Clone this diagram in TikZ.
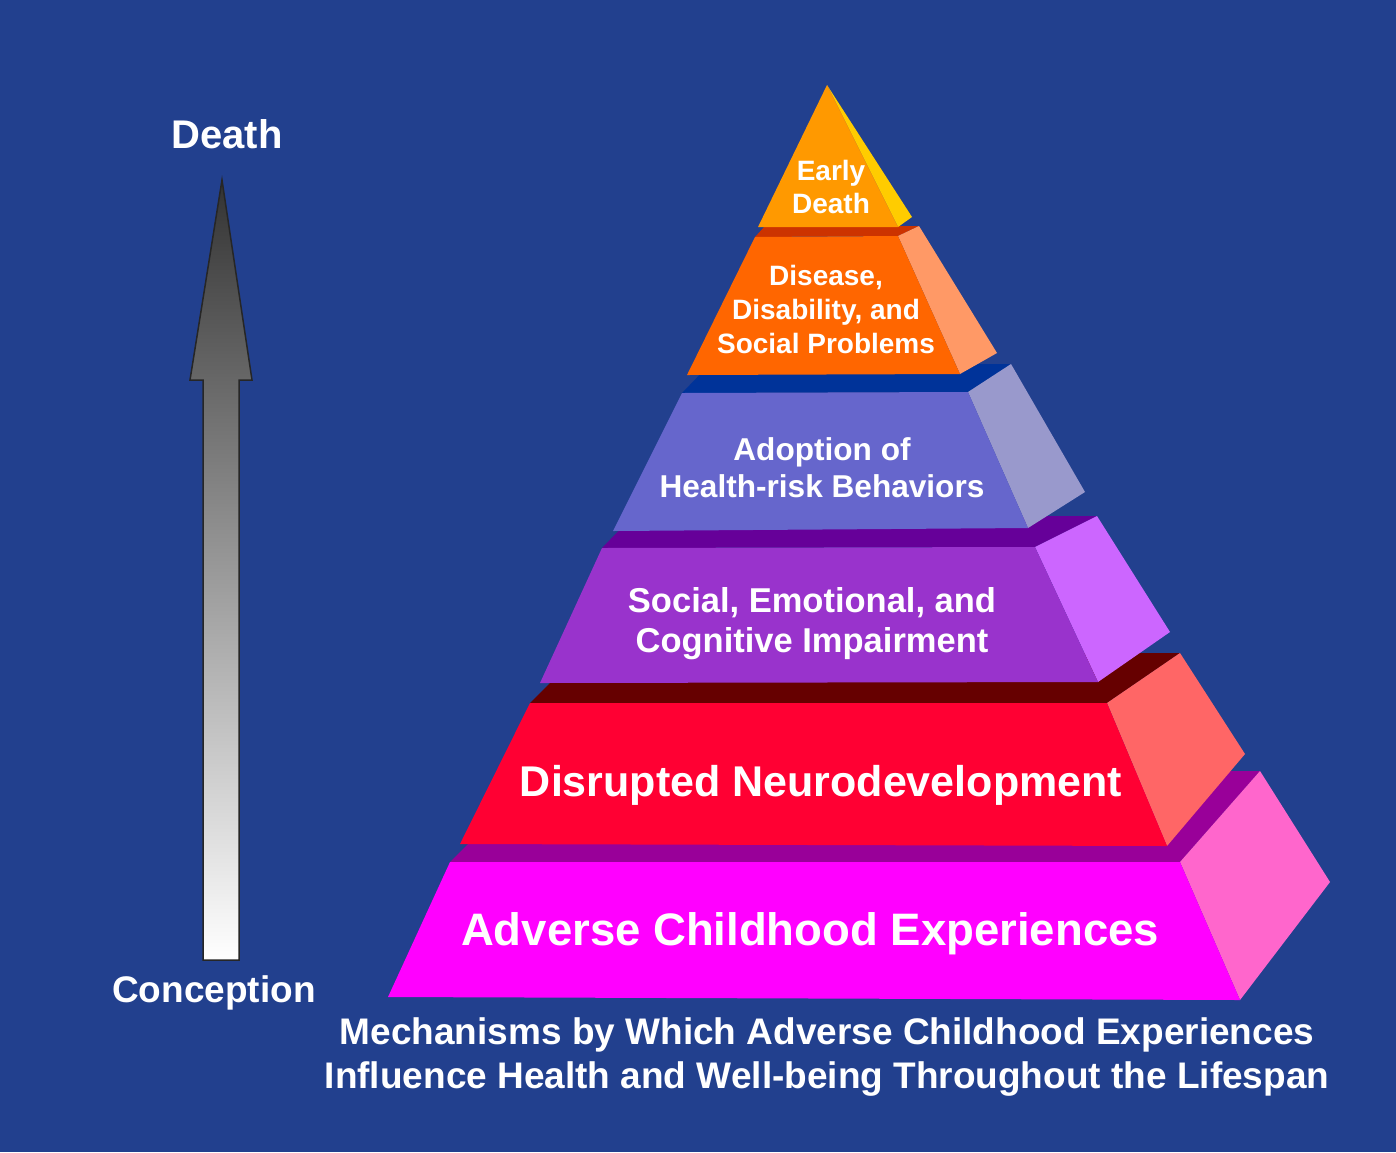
\documentclass[tikz,border=0pt]{standalone}
\usepackage{fontspec}
\setmainfont{Liberation Sans}
\usepackage{tikz}

\definecolor{bgblue}{HTML}{22408E}
\definecolor{deathfront}{HTML}{FF9900}
\definecolor{deathside}{HTML}{FFCC00}
\definecolor{diseasetop}{HTML}{CC3300}
\definecolor{diseasefront}{HTML}{FF6600}
\definecolor{diseaseside}{HTML}{FF9966}
\definecolor{risktop}{HTML}{003399}
\definecolor{riskfront}{HTML}{6666CC}
\definecolor{riskside}{HTML}{9999CC}
\definecolor{socialtop}{HTML}{660099}
\definecolor{socialfront}{HTML}{9933CC}
\definecolor{socialside}{HTML}{CC66FF}
\definecolor{neurotop}{HTML}{660000}
\definecolor{neurofront}{HTML}{FF0033}
\definecolor{neuroside}{HTML}{FF6666}
\definecolor{acetop}{HTML}{990099}
\definecolor{acefront}{HTML}{FF00FF}
\definecolor{aceside}{HTML}{FF66CC}

\begin{document}
\begin{tikzpicture}[x=1pt,y=-1pt,
    tiertext/.style={text=white,inner sep=0pt,align=center},
    bigtext/.style={text=white,inner sep=0pt,anchor=base}]
% Background
\fill[bgblue] (0,0) rectangle (1396,1152);
\useasboundingbox (0,0) rectangle (1396,1152);

% Time arrow
\shade[top color=black!80,bottom color=white,draw=black!85,line width=1.5pt]
    (203,960) -- (203,380) -- (190,380) -- (222,180) -- (252,380)
    -- (239,380) -- (239,960) -- cycle;
\node[bigtext,font=\fontsize{40}{48}\selectfont\bfseries] (death) at (227,148) {Death};
\node[bigtext,font=\fontsize{37}{44}\selectfont\bfseries] (conception) at (214,1002) {Conception};

% Tier 6: adverse experiences
\fill[acetop] (450,862) -- (1180,862) -- (1260,771) -- (541,771) -- cycle;
\fill[aceside] (1180,862) -- (1260,771) -- (1330,882) -- (1240,1000) -- cycle;
\fill[acefront] (388,997) -- (450,862) -- (1180,862) -- (1240,1000) -- cycle;

% Tier 5: neurodevelopment
\fill[neurotop] (530,703) -- (1107,703) -- (1180,653) -- (580,653) -- cycle;
\fill[neuroside] (1107,703) -- (1180,653) -- (1245,754) -- (1167,846) -- cycle;
\fill[neurofront] (460,844) -- (530,703) -- (1107,703) -- (1167,846) -- cycle;

% Tier 4: impairment
\fill[socialtop] (602,548) -- (1035,547) -- (1097,516) -- (633,516) -- cycle;
\fill[socialside] (1035,547) -- (1097,516) -- (1170,632) -- (1098,682) -- cycle;
\fill[socialfront] (540,683) -- (602,548) -- (1035,547) -- (1098,682) -- cycle;

% Tier 3: health-risk behaviours
\fill[risktop] (682,393) -- (968,392) -- (1011,364) -- (710,364) -- cycle;
\fill[riskside] (968,392) -- (1011,364) -- (1085,492) -- (1028,528) -- cycle;
\fill[riskfront] (613,531) -- (682,393) -- (968,392) -- (1028,528) -- cycle;

% Tier 2: disease
\fill[diseasetop] (755,237) -- (898,236) -- (919,226) -- (765,226) -- cycle;
\fill[diseaseside] (898,236) -- (919,226) -- (997,353) -- (960,374) -- cycle;
\fill[diseasefront] (687,375) -- (755,237) -- (898,236) -- (960,374) -- cycle;

% Tier 1: top
\fill[deathside] (827,85) -- (912,217) -- (898,227) -- cycle;
\fill[deathfront] (827,85) -- (898,227) -- (758,227) -- cycle;

% Tier labels
\node[tiertext,anchor=north,font=\fontsize{28}{33}\selectfont\bfseries] (early) at (831,160) {Early\\Death};
\node[tiertext,anchor=north,font=\fontsize{28}{34}\selectfont\bfseries] (disease) at (826,265) {Disease,\\Disability, and\\Social Problems};
\node[tiertext,anchor=north,font=\fontsize{31.6}{37}\selectfont\bfseries] (adoption) at (822,437) {Adoption of\\Health-risk Behaviors};
\node[tiertext,anchor=north,font=\fontsize{34.5}{40}\selectfont\bfseries] (social) at (812,587) {Social, Emotional, and\\Cognitive Impairment};
\node[bigtext,font=\fontsize{43}{50}\selectfont\bfseries] (neuro) at (821,796) {Disrupted Neurodevelopment};
\node[bigtext,font=\fontsize{45.5}{52}\selectfont\bfseries] (ace) at (810,945) {Adverse Childhood Experiences};

% Caption
\node[tiertext,anchor=north,font=\fontsize{37}{44}\selectfont\bfseries] (caption) at (827,1017)
    {Mechanisms by Which Adverse Childhood Experiences\\Influence Health and Well-being Throughout the Lifespan};
\end{tikzpicture}
\end{document}
